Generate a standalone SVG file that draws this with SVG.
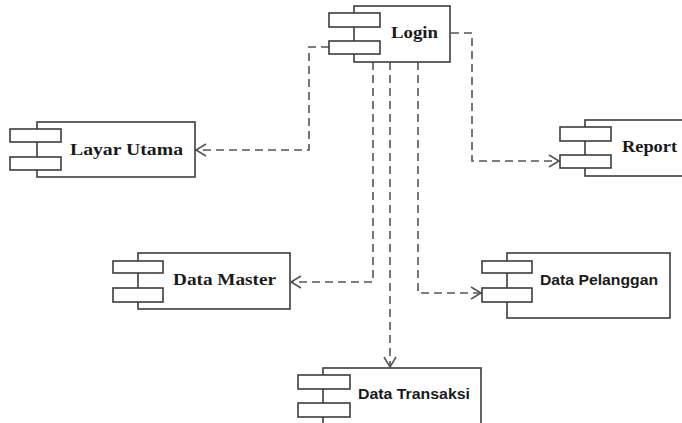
<svg xmlns="http://www.w3.org/2000/svg" width="682" height="423" viewBox="0 0 682 423">
  <style>
    .body { fill: #ffffff; stroke: #3c3c3c; stroke-width: 1.6; }
    .port { fill: #ffffff; stroke: #3c3c3c; stroke-width: 1.6; }
    .serif { font-family: "Liberation Serif", "Times New Roman", serif; font-weight: bold; font-size: 16px; fill: #1a1a1a; }
    .sans { font-family: "Liberation Sans", Arial, sans-serif; font-weight: bold; font-size: 14px; fill: #1a1a1a; }
    .dep { fill: none; stroke: #555555; stroke-width: 1.6; stroke-dasharray: 8 5; }
  </style>
  <defs>
    <marker id="open" markerUnits="userSpaceOnUse" markerWidth="14" markerHeight="14" refX="11" refY="7" orient="auto">
      <path d="M1,1 L11,7 L1,13" fill="none" stroke="#555555" stroke-width="1.6"/>
    </marker>
  </defs>

  <rect width="682" height="423" fill="#ffffff"/>

  <!-- dependency connectors -->
  <g id="connectors">
    <path class="dep" d="M329,47 H309 V150 H196" marker-end="url(#open)"/>
    <path class="dep" d="M451,33 H472 V161 H559" marker-end="url(#open)"/>
    <path class="dep" d="M373,62 V282 H291" marker-end="url(#open)"/>
    <path class="dep" d="M390,62 V367" marker-end="url(#open)"/>
    <path class="dep" d="M418,62 V293 H481" marker-end="url(#open)"/>
  </g>

  <g id="login">
    <rect class="body" x="354" y="6" width="96" height="56"/>
    <rect class="port" x="329" y="13" width="51" height="14"/>
    <rect class="port" x="329" y="41" width="51" height="13"/>
    <text class="serif" x="391" y="38" textLength="47" lengthAdjust="spacingAndGlyphs">Login</text>
  </g>

  <g id="layar-utama">
    <rect class="body" x="37" y="122" width="158" height="55"/>
    <rect class="port" x="10" y="129" width="51" height="13"/>
    <rect class="port" x="10" y="157" width="51" height="13"/>
    <text class="serif" x="70" y="155" textLength="113" lengthAdjust="spacingAndGlyphs">Layar Utama</text>
  </g>

  <g id="report">
    <rect class="body" x="585" y="120" width="105" height="56"/>
    <rect class="port" x="560" y="127" width="51" height="14"/>
    <rect class="port" x="560" y="155" width="51" height="13"/>
    <text class="serif" x="622" y="152" textLength="55" lengthAdjust="spacingAndGlyphs">Report</text>
  </g>

  <g id="data-master">
    <rect class="body" x="138" y="253" width="152" height="56"/>
    <rect class="port" x="113" y="261" width="50" height="12"/>
    <rect class="port" x="113" y="288" width="50" height="14"/>
    <text class="serif" x="173" y="285" textLength="103" lengthAdjust="spacingAndGlyphs">Data Master</text>
  </g>

  <g id="data-pelanggan">
    <rect class="body" x="507" y="253" width="163" height="65"/>
    <rect class="port" x="482" y="261" width="50" height="12"/>
    <rect class="port" x="482" y="288" width="50" height="14"/>
    <text class="sans" x="540" y="285" textLength="118" lengthAdjust="spacingAndGlyphs">Data Pelanggan</text>
  </g>

  <g id="data-transaksi">
    <rect class="body" x="323" y="368" width="158" height="62"/>
    <rect class="port" x="298" y="375" width="52" height="14"/>
    <rect class="port" x="298" y="403" width="52" height="14"/>
    <text class="sans" x="358" y="399" textLength="112" lengthAdjust="spacingAndGlyphs">Data Transaksi</text>
  </g>
</svg>
